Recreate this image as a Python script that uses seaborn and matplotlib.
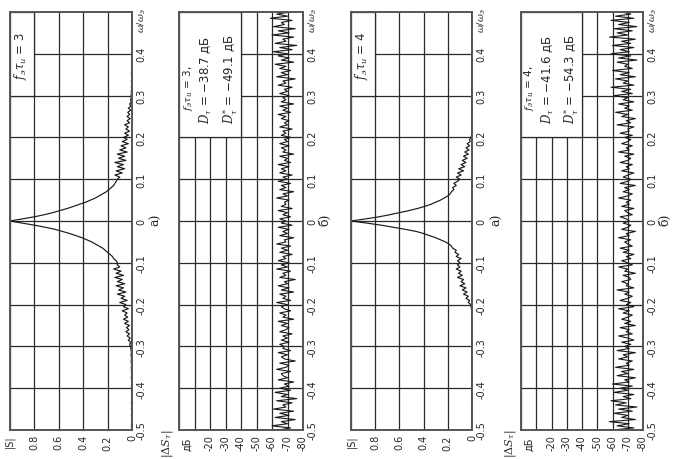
import numpy as np
import matplotlib
matplotlib.use("Agg")
import matplotlib.pyplot as plt
import seaborn as sns
from matplotlib.patches import Rectangle

# normalised frequency grid, step 0.005
omega = np.round(np.linspace(-0.5, 0.5, 201), 3)

# |S| for f*tau = 3
s_3 = [
    0.004, 0.002, 0.005, 0.003, 0.002, 0.004, 0.003, 0.005, 0.002, 0.003, 0.004, 0.002, 0.003, 0.005, 0.003, 0.002, 0.004, 0.003, 0.002, 0.004,
    0.003, 0.005, 0.002, 0.004, 0.003, 0.006, 0.004, 0.003, 0.005, 0.004, 0.006, 0.003, 0.005, 0.007, 0.004, 0.006, 0.008, 0.005, 0.007, 0.010,
    0.012, 0.020, 0.010, 0.030, 0.015, 0.040, 0.020, 0.050, 0.025, 0.045, 0.020, 0.060, 0.030, 0.070, 0.035, 0.060, 0.040, 0.080, 0.030, 0.070,
    0.050, 0.100, 0.040, 0.090, 0.060, 0.120, 0.050, 0.110, 0.070, 0.130, 0.060, 0.120, 0.080, 0.140, 0.070, 0.130, 0.090, 0.150, 0.100, 0.120,
    0.120, 0.130, 0.150, 0.160, 0.180, 0.200, 0.220, 0.240, 0.270, 0.300, 0.330, 0.370, 0.410, 0.460, 0.510, 0.570, 0.630, 0.710, 0.800, 0.900,
    1.000,
    0.900, 0.800, 0.720, 0.650, 0.590, 0.530, 0.480, 0.430, 0.380, 0.340, 0.300, 0.270, 0.240, 0.210, 0.190, 0.170, 0.150, 0.140, 0.130, 0.120,
    0.100, 0.140, 0.080, 0.130, 0.060, 0.120, 0.070, 0.140, 0.050, 0.110, 0.060, 0.120, 0.040, 0.100, 0.050, 0.090, 0.030, 0.080, 0.040, 0.070,
    0.030, 0.060, 0.020, 0.050, 0.030, 0.060, 0.020, 0.040, 0.015, 0.040, 0.020, 0.035, 0.010, 0.030, 0.008, 0.020, 0.006, 0.012, 0.005, 0.008,
    0.004, 0.006, 0.003, 0.005, 0.004, 0.003, 0.005, 0.002, 0.004, 0.003, 0.005, 0.002, 0.003, 0.004, 0.002, 0.003, 0.004, 0.002, 0.003, 0.002,
    0.003, 0.002, 0.004, 0.002, 0.003, 0.002, 0.003, 0.004, 0.002, 0.003, 0.002, 0.003, 0.002, 0.004, 0.002, 0.003, 0.002, 0.003, 0.002, 0.003,
]

# |S| for f*tau = 4
s_4 = [
    0.003, 0.002, 0.004, 0.003, 0.002, 0.003, 0.004, 0.002, 0.003, 0.002, 0.004, 0.003, 0.002, 0.003, 0.002, 0.004, 0.003, 0.002, 0.003, 0.002,
    0.003, 0.004, 0.002, 0.003, 0.002, 0.003, 0.004, 0.002, 0.003, 0.002, 0.004, 0.003, 0.002, 0.003, 0.002, 0.003, 0.004, 0.002, 0.003, 0.002,
    0.003, 0.002, 0.004, 0.003, 0.002, 0.003, 0.002, 0.004, 0.003, 0.002, 0.003, 0.002, 0.004, 0.003, 0.002, 0.003, 0.004, 0.003, 0.005, 0.008,
    0.010, 0.030, 0.020, 0.050, 0.030, 0.070, 0.040, 0.080, 0.050, 0.100, 0.060, 0.090, 0.070, 0.120, 0.080, 0.110, 0.090, 0.130, 0.100, 0.120,
    0.100, 0.120, 0.090, 0.130, 0.110, 0.140, 0.130, 0.160, 0.170, 0.190, 0.220, 0.260, 0.300, 0.350, 0.400, 0.460, 0.550, 0.650, 0.750, 0.870,
    1.000,
    0.880, 0.770, 0.680, 0.600, 0.520, 0.450, 0.390, 0.340, 0.300, 0.260, 0.230, 0.200, 0.180, 0.170, 0.150, 0.160, 0.130, 0.150, 0.120, 0.100,
    0.130, 0.090, 0.120, 0.070, 0.110, 0.060, 0.090, 0.050, 0.080, 0.040, 0.070, 0.030, 0.060, 0.025, 0.050, 0.020, 0.040, 0.015, 0.020, 0.008,
    0.004, 0.003, 0.002, 0.003, 0.004, 0.002, 0.003, 0.002, 0.004, 0.003, 0.002, 0.003, 0.002, 0.004, 0.003, 0.002, 0.003, 0.002, 0.004, 0.003,
    0.002, 0.003, 0.004, 0.002, 0.003, 0.002, 0.003, 0.004, 0.002, 0.003, 0.002, 0.004, 0.003, 0.002, 0.003, 0.002, 0.003, 0.004, 0.002, 0.003,
    0.002, 0.003, 0.002, 0.004, 0.003, 0.002, 0.003, 0.002, 0.004, 0.003, 0.002, 0.003, 0.002, 0.003, 0.004, 0.002, 0.003, 0.002, 0.003, 0.002,
]

# |dS| in dB for f*tau = 3
ds_3 = [
    -64, -72, -60, -70, -66, -75, -62, -71, -65, -74, -61, -69, -67, -73, -63, -76, -66, -70, -62, -72,
    -65, -71, -68, -74, -64, -70, -67, -66, -72, -63, -69, -71, -65, -75, -68, -66, -70, -64, -72, -67,
    -68, -65, -71, -66, -70, -67, -73, -65, -69, -71, -66, -70, -64, -74, -67, -69, -65, -72, -68, -66,
    -70, -63, -72, -67, -69, -65, -74, -66, -71, -64, -70, -68, -75, -65, -69, -67, -72, -63, -70, -66,
    -71, -64, -69, -67, -73, -65, -70, -66, -72, -63, -69, -68, -74, -65, -70, -67, -71, -64, -73, -66,
    -69, -65, -72, -67, -70, -64, -73, -66, -69, -68, -71, -63, -70, -67, -74, -65, -69, -66, -72, -64,
    -70, -67, -73, -65, -69, -66, -71, -64, -72, -68, -70, -65, -74, -67, -69, -66, -71, -65, -70, -68,
    -72, -66, -69, -67, -73, -65, -70, -68, -71, -66, -69, -64, -72, -67, -70, -65, -74, -66, -69, -67,
    -71, -65, -70, -68, -73, -64, -69, -67, -75, -63, -70, -66, -72, -65, -69, -62, -74, -66, -71, -64,
    -70, -61, -73, -65, -76, -62, -69, -67, -74, -60, -71, -64, -75, -61, -68, -66, -73, -59, -70, -63,
    -72,
]

# |dS| in dB for f*tau = 4
ds_4 = [
    -60, -74, -63, -71, -58, -75, -66, -70, -61, -73, -64, -76, -62, -69, -59, -72, -67, -74, -61, -70,
    -65, -73, -60, -71, -68, -75, -63, -70, -66, -74, -62, -71, -69, -73, -64, -70, -67, -75, -63, -71,
    -68, -72, -66, -74, -70, -64, -73, -69, -71, -65, -75, -68, -72, -66, -70, -73, -67, -71, -64, -74,
    -69, -72, -65, -70, -73, -68, -71, -63, -74, -69, -70, -66, -72, -71, -67, -75, -68, -70, -64, -73,
    -70, -66, -72, -69, -74, -67, -71, -65, -73, -70, -68, -72, -64, -71, -69, -75, -66, -70, -72, -67,
    -71, -69, -65, -73, -70, -68, -74, -66, -71, -69, -72, -64, -70, -73, -67, -71, -68, -75, -65, -70,
    -72, -67, -70, -74, -66, -71, -69, -73, -65, -70, -72, -68, -74, -64, -71, -69, -73, -66, -70, -72,
    -68, -73, -65, -71, -70, -74, -63, -72, -69, -75, -66, -70, -62, -73, -68, -71, -64, -74, -67, -70,
    -61, -73, -66, -72, -59, -74, -67, -70, -62, -75, -65, -71, -60, -73, -68, -70, -63, -76, -64, -72,
    -59, -71, -65, -74, -60, -72, -66, -75, -58, -70, -63, -73, -61, -76, -64, -71, -59, -74, -62, -72,
    -66,
]

omega_ticks = [-0.5, -0.4, -0.3, -0.2, -0.1, 0.0, 0.1, 0.2, 0.3, 0.4]
omega_labels = ["-0.5", "-0.4", "-0.3", "-0.2", "-0.1", "0", "0.1", "0.2", "0.3", "0.4"]
s_ticks = [0.0, 0.2, 0.4, 0.6, 0.8, 1.0]
s_labels = ["0", "0.2", "0.4", "0.6", "0.8", "|S|"]
db_ticks = [0, -10, -20, -30, -40, -50, -60, -70, -80]
db_labels = ["", "", "-20", "-30", "-40", "-50", "-60", "-70", "-80"]

sns.set_style("white")
plt.rcParams["font.family"] = ["DejaVu Sans"]
plt.rcParams["mathtext.fontset"] = "dejavuserif"

GRID = "#2a2a2a"
LINE = "#1a1a1a"

fig = plt.figure(figsize=(6.81, 4.6), dpi=100)
W, H = 681.0, 460.0


def make_axes(x0, x1):
    ax = fig.add_axes([x0 / W, 29 / H, (x1 - x0) / W, 418 / H])
    ax.set_ylim(-0.5, 0.5)
    ax.set_axisbelow(True)
    ax.grid(True, color=GRID, lw=0.9)
    ax.yaxis.tick_right()
    ax.set_yticks(omega_ticks)
    ax.set_yticklabels(omega_labels, rotation=90, va="center", ha="left", fontsize=7)
    ax.tick_params(length=0, pad=3)
    for sp in ax.spines.values():
        sp.set_color("#555555")
        sp.set_linewidth(1.4)
    ax.text(1.03, 1.012, r"$\omega/\omega_{э}$", rotation=90, ha="left", va="top",
            fontsize=7, transform=ax.transAxes)
    return ax


def spectrum_panel(ax, values, tag):
    sns.lineplot(x=values, y=omega, sort=False, estimator=None, color=LINE, lw=0.85, ax=ax)
    ax.set_xlim(1.0, 0.0)
    ax.set_xticks(s_ticks)
    ax.set_xticklabels(s_labels, rotation=90, ha="center", va="top", fontsize=7)
    ax.add_patch(Rectangle((0.8, 0.3), 0.2, 0.2, facecolor="white", edgecolor=GRID, lw=0.9, zorder=1))
    ax.text(0.91, 0.34, tag, rotation=90, ha="center", va="bottom", fontsize=8.5, zorder=3)


def error_panel(ax, values, lines):
    sns.lineplot(x=values, y=omega, sort=False, estimator=None, color=LINE, lw=0.8, ax=ax)
    ax.set_xlim(0, -80)
    ax.set_xticks(db_ticks)
    ax.set_xticklabels(db_labels, rotation=90, ha="center", va="top", fontsize=7)
    ax.add_patch(Rectangle((-40, 0.2), 40, 0.3, facecolor="white", edgecolor=GRID, lw=0.9, zorder=1))
    ax.text(-5.5, 0.265, lines[0], rotation=90, ha="center", va="bottom", fontsize=7.5, zorder=3)
    ax.text(-17, 0.235, lines[1], rotation=90, ha="center", va="bottom", fontsize=8.5, zorder=3)
    ax.text(-33, 0.235, lines[2], rotation=90, ha="center", va="bottom", fontsize=8.5, zorder=3)
    ax.text(-5.5, -0.515, "дБ", rotation=90, ha="center", va="top", fontsize=7)
    ax.text(-0.09, -0.03, r"$|\Delta S_{\tau}|$", rotation=90, ha="center", va="center",
            fontsize=8, transform=ax.transAxes)


ax1 = make_axes(10, 132)
spectrum_panel(ax1, s_3, r"$f_{э}\tau_{и}$ = 3")

ax2 = make_axes(179, 303)
error_panel(ax2, ds_3, [r"$f_{э}\tau_{и}$ = 3,", r"$D_{\tau}$ = −38.7 дБ", r"$D_{\tau}^{*}$ = −49.1 дБ"])

ax3 = make_axes(351, 472)
spectrum_panel(ax3, s_4, r"$f_{э}\tau_{и}$ = 4")

ax4 = make_axes(521, 643)
error_panel(ax4, ds_4, [r"$f_{э}\tau_{и}$ = 4,", r"$D_{\tau}$ = −41.6 дБ", r"$D_{\tau}^{*}$ = −54.3 дБ"])

for xc, tag in [(156, "а)"), (325, "б)"), (497, "а)"), (665, "б)")]:
    fig.text(xc / W, 1 - 220 / H, tag, rotation=90, ha="center", va="center",
             fontsize=9, family="DejaVu Serif")

fig.savefig("out.png", dpi=100)
